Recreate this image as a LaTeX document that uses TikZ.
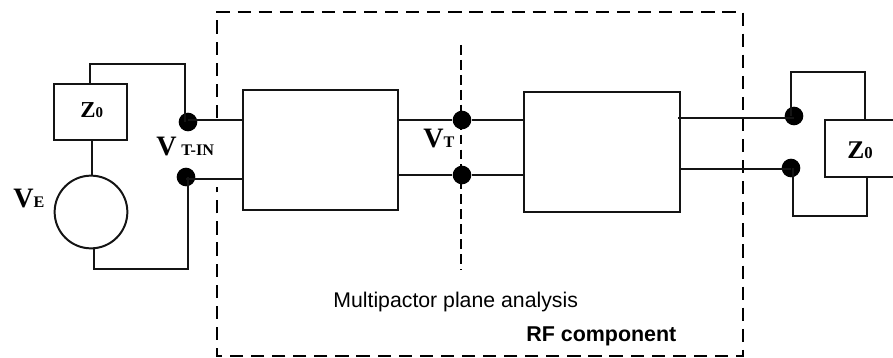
\documentclass[tikz,border=0pt]{standalone}
\usepackage{fontspec}
\setmainfont{Liberation Serif}
\setsansfont{Liberation Sans}
\usetikzlibrary{calc}
\tikzset{
	wire/.style={line width=1.13pt,black!92},
	block/.style={draw,wire,inner sep=0pt},
	pin/.style={circle,fill=black,inner sep=0pt,minimum size=10.6pt},
	frame/.style={line width=1.13pt,dash pattern=on 7.5pt off 4.5pt},
	plane/.style={line width=0.9pt,dash pattern=on 5.6pt off 2.9pt},
	lab/.style={inner sep=0pt,anchor=base west,font=\bfseries\fontsize{16}{16}\selectfont},
	txt/.style={inner sep=0pt,anchor=base west,font=\sffamily\fontsize{12.1}{12.1}\selectfont}
}
\newcommand{\subs}{\fontsize{9.2}{9.2}\selectfont}
\begin{document}
\begin{tikzpicture}[x=0.02cm,y=-0.02cm]
	\useasboundingbox (0,0) rectangle (893,358);

	% frame of the component
	\coordinate (f1) at (217,118);
	\coordinate (f2) at (217,187);
	\draw[frame] (f1) -- (217,12) -- (743,12) -- (743,356) -- (217,356) -- (f2);

	% plane
	\coordinate (p1) at (461,45);
	\coordinate (p2) at (461,270);
	\draw[plane] (p1) -- (p2);

	% blocks
	\node[block,minimum width=73*0.567pt,minimum height=56*0.567pt] (zs) at (90.5,112) {};
	\node[block,circle,minimum size=73*0.567pt] (src) at (91,212) {};
	\node[block,minimum width=155*0.567pt,minimum height=121*0.567pt] (bl) at (320.5,150) {};
	\node[block,minimum width=156*0.567pt,minimum height=121*0.567pt] (br) at (602,152) {};
	\node[block,minimum width=84*0.567pt,minimum height=57*0.567pt] (zl) at (867,148.5) {};

	% pins
	\node[pin] (a1) at (188,122) {};
	\node[pin] (a2) at (186,177) {};
	\node[pin] (b1) at (462,120) {};
	\node[pin] (b2) at (462,175) {};
	\node[pin] (c1) at (794,116) {};
	\node[pin] (c2) at (791,168) {};

	% corners and ends of the wires
	\coordinate (s1) at (185,64);
	\coordinate (s2) at (188,269);
	\coordinate (s3) at (94,248);
	\coordinate (s4) at (92,140);
	\coordinate (s5) at (90,84);
	\coordinate (bl1) at (243,120);
	\coordinate (bl2) at (243,179);
	\coordinate (br1) at (678,118);
	\coordinate (br2) at (680,169);
	\coordinate (l1) at (791,72);
	\coordinate (l2) at (865,72);
	\coordinate (l3) at (793,216);
	\coordinate (l4) at (867,216);

	% source side
	\draw[wire] (s5) |- (s1) -- (s1 |- a1);
	\draw[wire] (s4) -- (s4 |- src.north);
	\draw[wire] (s3) |- (s2) -- (s2 |- a2);
	\draw[wire] (a1 |- bl1) -- (bl1);
	\draw[wire] (a2 |- bl2) -- (bl2);

	% between blocks
	\draw[wire] (bl.east |- b1) -- (b1) -- (br.west |- b1);
	\draw[wire] (bl.east |- b2) -- (b2) -- (br.west |- b2);

	% load side
	\draw[wire] (br1) -- (c1 |- br1);
	\draw[wire] (br2) -- (c2 |- br2);
	\draw[wire] (l1 |- c1) -- (l1) -- (l2) -- (l2 |- zl.north);
	\draw[wire] (l3 |- c2) -- (l3) -- (l4) -- (l4 |- zl.south);

	% labels
	\node[lab,font=\bfseries\fontsize{13}{13}\selectfont] (zsl) at (80,118) {Z\fontsize{8.5}{8.5}\selectfont 0};
	\node[lab,font=\bfseries\fontsize{14.5}{14.5}\selectfont] (zll) at (847,158) {Z\fontsize{9.5}{9.5}\selectfont 0};
	\node[lab] (vin) at (156,155) {V\,\subs T-IN};
	\node[lab] (ve) at (13,208) {V\subs E};
	\node[lab] (vt) at (423,148) {V\subs T};
	\node[txt] (mpa) at (333,307) {Multipactor plane analysis};
	\node[txt,font=\sffamily\bfseries\fontsize{12.2}{12.2}\selectfont] (rf) at (526,341) {RF component};
\end{tikzpicture}
\end{document}
